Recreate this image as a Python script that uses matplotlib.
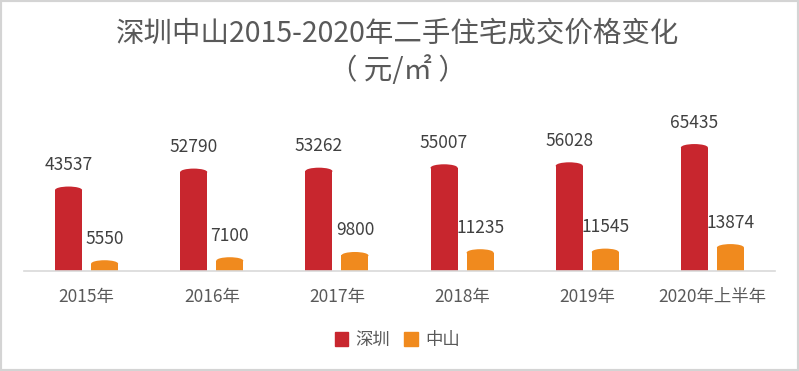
import matplotlib
matplotlib.use("Agg")
import matplotlib.pyplot as plt
from matplotlib.patches import Ellipse, Patch, Rectangle

plt.rcParams['font.family'] = ['Noto Sans CJK SC', 'DejaVu Sans']

years = ["2015年", "2016年", "2017年", "2018年", "2019年", "2020年上半年"]
shenzhen = [43537, 52790, 53262, 55007, 56028, 65435]
zhongshan = [5550, 7100, 9800, 11235, 11545, 13874]

_RED = "#c8262e"
_ORANGE = "#f08a1e"
_TEXT = "#595959"

fig = plt.figure(figsize=(7.99, 3.71), dpi=100)
ax = fig.add_axes([24 / 799, 100 / 371, 751 / 799, 135.8 / 371])

width = 0.216
offset = 0.144
cap = 3600  # height of the cylinder top cap in data units

for series, color, dx in ((shenzhen, _RED, -offset), (zhongshan, _ORANGE, offset)):
    for i, v in enumerate(series):
        x = i + dx
        ax.bar(x, v - cap / 2, width=width, color=color, linewidth=0)
        ax.add_patch(Ellipse((x, v - cap / 2), width, cap, color=color, linewidth=0))
        ax.annotate(str(v), (x, v), xytext=(0, 9), textcoords="offset points",
                    ha="center", va="bottom", fontsize=12.5, color="#404040")

ax.set_xlim(-0.5, len(years) - 0.5)
ax.set_ylim(0, 70000)
ax.set_xticks(range(len(years)))
ax.set_xticklabels(years, fontsize=12.5, color=_TEXT)
ax.tick_params(axis="x", length=0, pad=12)
ax.set_yticks([])
for side in ("left", "right", "top"):
    ax.spines[side].set_visible(False)
ax.spines["bottom"].set_color("#d9d9d9")
ax.spines["bottom"].set_linewidth(1.2)

fig.text(0.498, 1 - 34 / 371, "深圳中山2015-2020年二手住宅成交价格变化",
         ha="center", va="center", fontsize=20.5, color=_TEXT, fontweight="light")
fig.text(0.498, 1 - 71 / 371, "（ 元/㎡ ）",
         ha="center", va="center", fontsize=20.5, color=_TEXT, fontweight="light")

handles = [Patch(color=_RED, label="深圳"), Patch(color=_ORANGE, label="中山")]
fig.legend(handles=handles, loc="center", bbox_to_anchor=(0.497, 31 / 371), ncol=2,
           frameon=False, fontsize=12.5, handlelength=0.8, handleheight=0.8,
           handletextpad=0.4, columnspacing=0.8, labelcolor=_TEXT)

fig.patches.append(Rectangle((0, 0), 1, 1, transform=fig.transFigure, fill=False,
                             edgecolor="#d4d4d4", linewidth=3))

fig.savefig("out.png", dpi=100)
